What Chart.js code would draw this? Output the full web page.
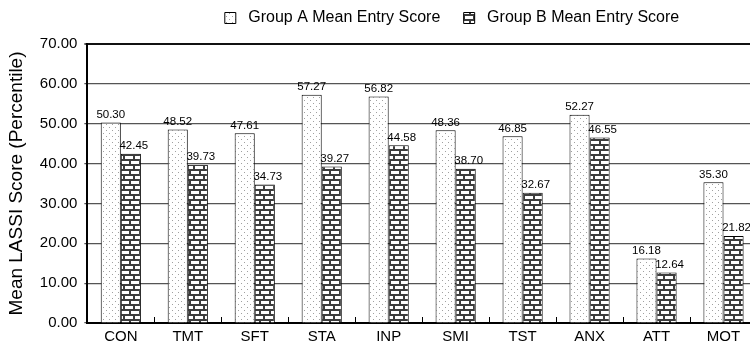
<!DOCTYPE html>
<html>
<head>
<meta charset="utf-8">
<script src="https://cdn.jsdelivr.net/npm/chart.js@4/dist/chart.umd.min.js"></script>
<style>
  html, body { margin: 0; padding: 0; overflow: hidden; background: #fff; }
  #wrap { width: 750px; height: 345px; overflow: hidden; position: relative; }
  canvas { display: block; }
</style>
</head>
<body>
<div id="wrap"><canvas id="c" width="904" height="345"></canvas></div>
<script>
const categories = ['CON', 'TMT', 'SFT', 'STA', 'INP', 'SMI', 'TST', 'ANX', 'ATT', 'MOT'];
const groupA = [50.30, 48.52, 47.61, 57.27, 56.82, 48.36, 46.85, 52.27, 16.18, 35.30];
const groupB = [42.45, 39.73, 34.73, 39.27, 44.58, 38.70, 32.67, 46.55, 12.64, 21.82];
const seriesLabels = ['Group A Mean Entry Score', 'Group B Mean Entry Score'];
const yTitle = 'Mean LASSI Score (Percentile)';

const FONT = '"Liberation Sans", Arial, Helvetica, sans-serif';

function dotPattern() {
  const c = document.createElement('canvas');
  c.width = 6; c.height = 6;
  const x = c.getContext('2d');
  x.fillStyle = '#ffffff'; x.fillRect(0, 0, 6, 6);
  x.fillStyle = '#a0a0a0';
  x.fillRect(1, 1, 1, 1);
  x.fillRect(4, 4, 1, 1);
  return x.createPattern(c, 'repeat');
}
function brickPattern() {
  const c = document.createElement('canvas');
  c.width = 10; c.height = 10;
  const x = c.getContext('2d');
  x.fillStyle = '#3c3c3c'; x.fillRect(0, 0, 10, 10);
  x.fillStyle = '#ffffff';
  x.fillRect(1, 1, 8, 3);
  x.fillRect(0, 6, 3, 3);
  x.fillRect(5, 6, 5, 3);
  return x.createPattern(c, 'repeat');
}

const ctx = document.getElementById('c').getContext('2d');
const patA = dotPattern();
const patB = brickPattern();

const valueLabels = {
  id: 'valueLabels',
  afterDatasetsDraw(chart) {
    const c = chart.ctx;
    c.save();
    c.font = '11.5px ' + FONT;
    c.fillStyle = '#000';
    c.textAlign = 'center';
    c.textBaseline = 'bottom';
    chart.data.datasets.forEach((ds, di) => {
      const meta = chart.getDatasetMeta(di);
      meta.data.forEach((bar, i) => {
        c.fillText(ds.data[i].toFixed(2), bar.x + (di === 1 ? 3 : 0), bar.y - 2);
      });
    });
    c.restore();
  }
};

const innerTicks = {
  id: 'innerTicks',
  afterDatasetsDraw(chart) {
    const xs = chart.scales.x;
    const c = chart.ctx;
    const bottom = chart.chartArea.bottom;
    c.save();
    c.strokeStyle = '#000';
    c.lineWidth = 1;
    for (let i = 0; i < categories.length - 1; i++) {
      const px = Math.round((xs.getPixelForValue(i) + xs.getPixelForValue(i + 1)) / 2) + 0.5;
      c.beginPath();
      c.moveTo(px, bottom);
      c.lineTo(px, bottom - 6);
      c.stroke();
    }
    c.restore();
  }
};

const legendSpace = {
  id: 'legendSpace',
  beforeInit(chart) {
    const orig = chart.legend.fit;
    chart.legend.fit = function () {
      orig.call(this);
      this.height += 8;
    };
  }
};

new Chart(ctx, {
  type: 'bar',
  data: {
    labels: categories,
    datasets: [
      { label: seriesLabels[0], data: groupA, backgroundColor: patA, borderColor: '#000', borderWidth: 1 },
      { label: seriesLabels[1], data: groupB, backgroundColor: patB, borderColor: '#000', borderWidth: 1 }
    ]
  },
  options: {
    responsive: false,
    animation: false,
    devicePixelRatio: 1,
    datasets: { bar: { categoryPercentage: 0.6, barPercentage: 1.0 } },
    layout: { padding: { top: 0, bottom: -6, left: 0 } },
    plugins: {
      tooltip: { enabled: false },
      legend: {
        position: 'top',
        labels: {
          font: { family: FONT, size: 16 },
          color: '#000',
          boxWidth: 11,
          boxHeight: 11,
          padding: 10,
          generateLabels(chart) {
            const items = Chart.defaults.plugins.legend.labels.generateLabels(chart);
            items.forEach((it, i) => {
              it.text = ' ' + it.text + (i === 0 ? '   ' : '');
              it.lineWidth = 1;
            });
            return items;
          }
        }
      }
    },
    scales: {
      x: {
        grid: { display: false, drawTicks: false },
        border: { display: true, color: '#000', width: 2 },
        ticks: { font: { family: FONT, size: 15 }, color: '#000', padding: 5 }
      },
      y: {
        min: 0, max: 70,
        ticks: {
          stepSize: 10,
          font: { family: FONT, size: 15 },
          color: '#000',
          padding: 7,
          callback: v => Number(v).toFixed(2)
        },
        grid: {
          color: ctx => ctx.tick && ctx.tick.value === 70 ? '#111' : '#555',
          lineWidth: ctx => ctx.tick && ctx.tick.value === 70 ? 2 : 1.2,
          tickLength: 3,
          tickColor: '#555'
        },
        border: { display: true, color: '#000', width: 2 },
        title: {
          display: true,
          text: yTitle,
          font: { family: FONT, size: 19 },
          color: '#000',
          padding: { top: 5, bottom: 5 }
        }
      },
      y2: {
        type: 'linear',
        position: 'right',
        display: true,
        grid: { display: false, drawTicks: false },
        border: { display: false },
        ticks: { display: false },
        afterFit(s) { s.width = 147; }
      }
    }
  },
  plugins: [valueLabels, innerTicks, legendSpace]
});
</script>
</body>
</html>
